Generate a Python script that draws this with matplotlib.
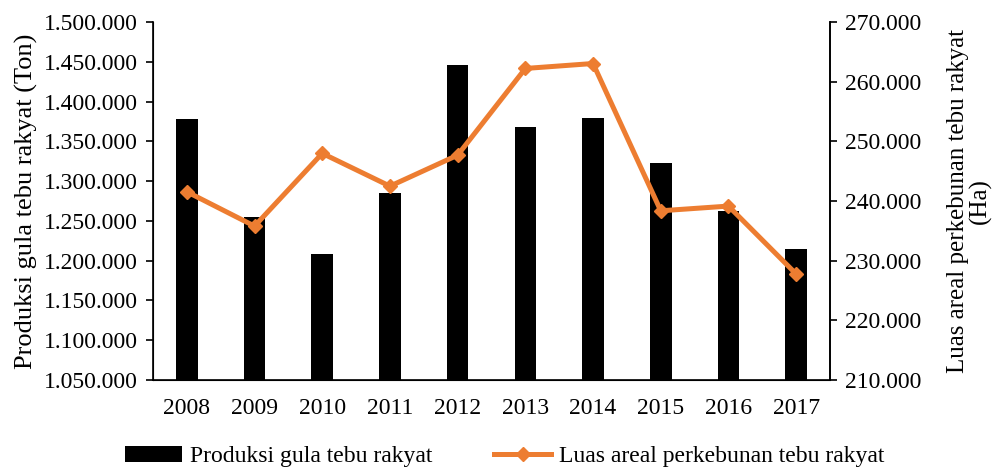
import matplotlib.pyplot as plt
from matplotlib.ticker import FuncFormatter

## DATA ##
years = ["2008", "2009", "2010", "2011", "2012", "2013", "2014", "2015", "2016", "2017"]
produksi = [1377700, 1255000, 1209000, 1284700, 1446000, 1368400, 1379700, 1322400, 1262400, 1214700]
luas = [241560, 235800, 248000, 242500, 247700, 262240, 263070, 238370, 239160, 227770]

plt.rcParams['font.family'] = ['Liberation Serif', 'DejaVu Serif']
plt.rcParams['font.size'] = 17


def dots(v, pos):
    # thousands separator with dots, Indonesian style
    return f"{int(round(v)):,}".replace(",", ".")


fig = plt.figure(figsize=(10, 4.72), dpi=100)
ax = fig.add_axes([0.153, 0.195, 0.677, 0.758])
x = range(len(years))

bars = ax.bar(x, produksi, width=0.32, color="black", label="Produksi gula tebu rakyat", zorder=2)
ax.set_ylim(1050000, 1500000)
ax.set_yticks(range(1050000, 1500001, 50000))
ax.yaxis.set_major_formatter(FuncFormatter(dots))
ax.set_xlim(-0.5, len(years) - 0.5)
ax.set_xticks(list(x))
ax.set_xticklabels(years)
ax.tick_params(axis="x", length=0, pad=13)
ax.tick_params(axis="y", length=5, width=1.2, direction="out", pad=6)
ax.set_ylabel("Produksi gula tebu rakyat (Ton)", fontsize=19, labelpad=4)
ax.spines["top"].set_visible(False)
for s in ["left", "bottom", "right"]:
    ax.spines[s].set_linewidth(1.2)

ax2 = ax.twinx()
line, = ax2.plot(x, luas, color="#ED7D31", lw=3.6, marker="D", ms=7.5,
                 label="Luas areal perkebunan tebu rakyat", zorder=3)
ax2.set_ylim(210000, 270000)
ax2.set_yticks(range(210000, 270001, 10000))
ax2.yaxis.set_major_formatter(FuncFormatter(dots))
ax2.tick_params(axis="y", length=5, width=1.2, direction="out", pad=6)
ax2.set_ylabel("Luas areal perkebunan tebu rakyat\n(Ha)", fontsize=18, labelpad=18,
               linespacing=1.0)
ax2.spines["top"].set_visible(False)
ax2.spines["right"].set_linewidth(1.2)

fig.legend([bars, line], ["Produksi gula tebu rakyat", "Luas areal perkebunan tebu rakyat"],
           loc="lower center", bbox_to_anchor=(0.505, -0.035), ncol=2, frameon=False,
           fontsize=17, columnspacing=2.6, handlelength=2.4, handletextpad=0.35)

fig.savefig("out.png", dpi=100)
